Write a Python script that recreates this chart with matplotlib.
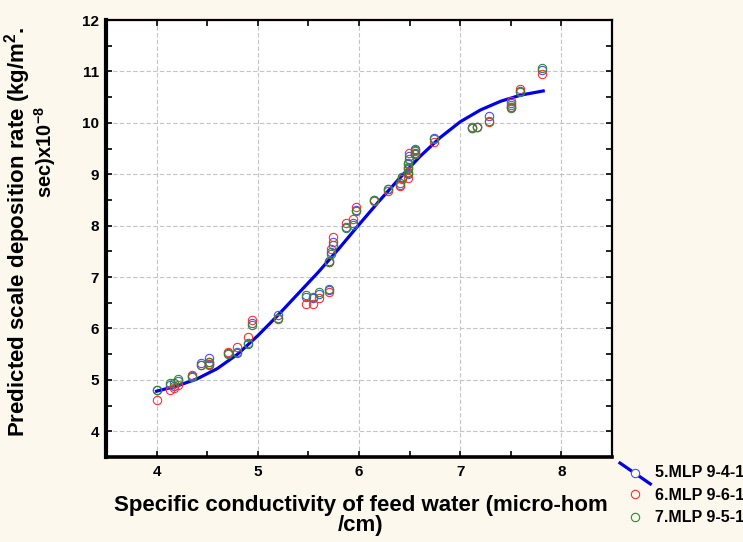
import numpy as np
import matplotlib
matplotlib.use('Agg')
import matplotlib.pyplot as plt
from matplotlib.lines import Line2D
from matplotlib.legend_handler import HandlerLine2D

plt.rcParams['font.family'] = ['Liberation Sans', 'DejaVu Sans']
plt.rcParams['font.weight'] = 'bold'
plt.rcParams['mathtext.fontset'] = 'custom'
plt.rcParams['mathtext.bf'] = 'Liberation Sans:bold'
plt.rcParams['mathtext.rm'] = 'Liberation Sans:bold'
plt.rcParams['mathtext.default'] = 'bf'

# conductivity values (shared by the three models)
x_pts = [4.00, 4.13, 4.17, 4.21, 4.35, 4.44, 4.52, 4.52, 4.71, 4.79, 4.90, 4.94, 5.20,
         5.48, 5.55, 5.60, 5.70, 5.70, 5.72, 5.74, 5.87, 5.94, 5.97, 6.15, 6.29, 6.41,
         6.42, 6.48, 6.48, 6.48, 6.49, 6.55, 6.55, 6.74, 7.12, 7.17, 7.28, 7.50, 7.50,
         7.59, 7.81]

# predicted deposition rate per model
y_mlp5 = [4.80, 4.90, 4.88, 4.98, 5.08, 5.33, 5.42, 5.30, 5.52, 5.55, 5.72, 6.10, 6.26,
          6.62, 6.60, 6.68, 6.75, 7.32, 7.48, 7.68, 7.98, 8.05, 8.30, 8.50, 8.72, 8.80,
          8.95, 9.00, 9.10, 9.20, 9.35, 9.42, 9.50, 9.70, 9.90, 9.92, 10.13, 10.30, 10.38,
          10.62, 11.03]
y_mlp6 = [4.60, 4.81, 4.84, 4.90, 5.10, 5.28, 5.35, 5.30, 5.55, 5.64, 5.84, 6.17, 6.19,
          6.48, 6.48, 6.60, 6.70, 7.30, 7.54, 7.77, 8.05, 8.13, 8.37, 8.47, 8.68, 8.77,
          8.90, 8.92, 9.05, 9.15, 9.41, 9.39, 9.45, 9.63, 9.91, 9.91, 10.02, 10.30, 10.43,
          10.65, 10.95]
y_mlp7 = [4.81, 4.94, 4.93, 5.02, 5.05, 5.28, 5.35, 5.28, 5.50, 5.52, 5.70, 6.07, 6.21,
          6.65, 6.61, 6.70, 6.77, 7.30, 7.44, 7.63, 7.95, 8.02, 8.28, 8.50, 8.72, 8.83,
          8.94, 9.02, 9.12, 9.21, 9.29, 9.39, 9.47, 9.68, 9.89, 9.91, 10.03, 10.28, 10.34,
          10.60, 11.06]

# fitted curve
x_fit = [4.0, 4.2, 4.4, 4.6, 4.8, 5.0, 5.2, 5.4, 5.6, 5.8, 6.0, 6.2, 6.4, 6.6, 6.8,
         7.0, 7.2, 7.4, 7.6, 7.82]
y_fit = [4.78, 4.88, 5.02, 5.22, 5.50, 5.86, 6.26, 6.68, 7.10, 7.55, 8.02, 8.48, 8.92,
         9.34, 9.71, 10.02, 10.25, 10.42, 10.54, 10.62]

labels = ['5.MLP 9-4-1', '6.MLP 9-6-1', '7.MLP 9-5-1']


class DiagHandler(HandlerLine2D):
    # legend line drawn slanting down, like the original
    def create_artists(self, legend, orig_handle, xdescent, ydescent, width, height,
                       fontsize, trans):
        arts = super().create_artists(legend, orig_handle, xdescent, ydescent, width,
                                      height, fontsize, trans)
        ln = arts[0]
        xd = ln.get_xdata()
        ln.set_ydata(np.linspace(height + 2, -5, len(xd)))
        return arts


fig = plt.figure(figsize=(7.43, 5.42), dpi=100, facecolor='#fcf8ee')
ax = fig.add_axes([106/743, 1 - 457/542, 506/743, 437/542])
ax.set_facecolor('white')

ax.plot(x_fit, y_fit, color='#0000e6', lw=2.3, zorder=3, solid_joinstyle='round')
ms = 6
ax.plot(x_pts, y_mlp5, 'o', mfc='none', mec='#4b4bff', ms=ms, mew=0.8, zorder=4)
ax.plot(x_pts, y_mlp6, 'o', mfc='none', mec='#ff3030', ms=ms, mew=0.8, zorder=5)
ax.plot(x_pts, y_mlp7, 'o', mfc='none', mec='#2f8a2f', ms=ms, mew=0.8, zorder=6)

ax.set_xlim(3.5, 8.5)
ax.set_ylim(3.5, 12)
ax.set_xticks([4, 5, 6, 7, 8])
ax.set_yticks([4, 5, 6, 7, 8, 9, 10, 11, 12])
ax.set_xticks(np.arange(3.5, 8.6, 0.5), minor=True)
ax.set_yticks(np.arange(3.5, 12.1, 0.5), minor=True)
ax.tick_params(which='both', direction='in', top=True, right=True, length=4, width=1.2)
ax.tick_params(axis='x', labelsize=11, pad=6)
ax.tick_params(axis='y', labelsize=11, pad=5)
for t in ax.get_xticklabels() + ax.get_yticklabels():
    t.set_fontweight('bold')
ax.grid(True, which='major', color='#c4c4c4', ls=(0, (4, 2)), lw=0.8)
ax.set_axisbelow(True)
ax.spines['left'].set_linewidth(3)
ax.spines['bottom'].set_linewidth(2.6)
ax.spines['top'].set_linewidth(1.6)
ax.spines['right'].set_linewidth(1.6)

fig.text(361/743, 1 - 495/542, 'Specific conductivity of feed water (micro-hom\n/cm)',
         ha='center', va='top', fontsize=16, fontweight='bold', linespacing=0.92)
fig.text(18/743, 1 - 232/542, r'Predicted scale deposition rate (kg/m$^2$.',
         rotation=90, ha='center', va='center', fontsize=16, fontweight='bold')
fig.text(45/743, 1 - 152/542, r'sec)x10$^{-8}$',
         rotation=90, ha='center', va='center', fontsize=14.5, fontweight='bold')

handles = [Line2D([], [], color='#0000e6', lw=2.3, marker='o', mfc='white',
                  mec='#4b4bff', ms=ms, mew=0.8),
           Line2D([], [], ls='none', marker='o', mfc='none', mec='#ff3030', ms=ms, mew=0.8),
           Line2D([], [], ls='none', marker='o', mfc='none', mec='#2f8a2f', ms=ms, mew=0.8)]
fig.legend(handles, labels, loc='upper left', bbox_to_anchor=(620/743, 1 - 465/542),
           frameon=False, prop={'size': 11.5, 'weight': 'bold'}, handlelength=1.9,
           handletextpad=0.3, labelspacing=0.48, borderaxespad=0, borderpad=0,
           handler_map={handles[0]: DiagHandler(numpoints=1)})

fig.savefig('out.png', dpi=100, facecolor=fig.get_facecolor())
